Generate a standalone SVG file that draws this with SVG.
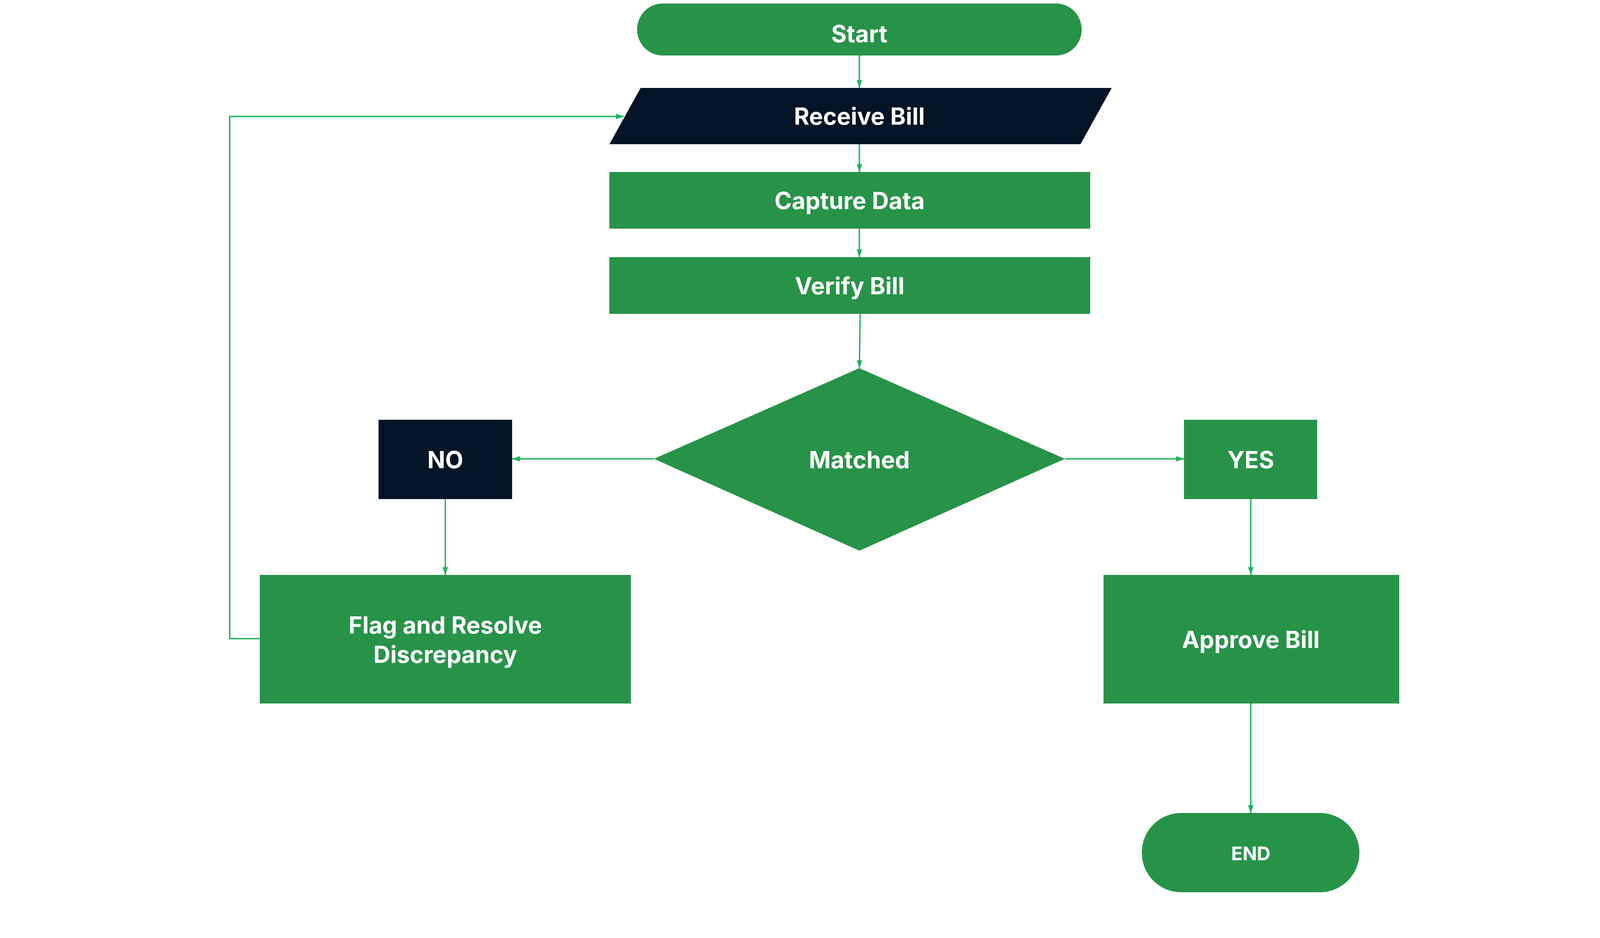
<svg xmlns="http://www.w3.org/2000/svg" width="4800" height="2400" viewBox="0 0 4800 2400">
<style>
.g{fill:#279348}.d{fill:#021426}
.t{font-family:Inter,"Open Sans","Liberation Sans",sans-serif;font-weight:700;fill:#fff;text-anchor:middle;dominant-baseline:central;font-size:60px}
.c{fill:none;stroke:#1db55a;stroke-width:3.5;marker-end:url(#a)}
</style>
<defs><marker id="a" viewBox="0 0 20 14" refX="20" refY="7" markerWidth="20" markerHeight="14" orient="auto" markerUnits="userSpaceOnUse"><path d="M0,0L20,7L0,14z" fill="#1db55a"/></marker></defs>
<rect width="4800" height="2400" fill="#fff"/>
<g id="connectors">
<path class="c" d="M2200,142V225"/>
<path class="c" d="M2200,369V440"/>
<path class="c" d="M2200,585V658"/>
<path class="c" d="M2202,803L2200,942"/>
<path class="c" d="M1674,1174H1311"/>
<path class="c" d="M2726,1174H3031"/>
<path class="c" d="M1140,1277V1471"/>
<path class="c" d="M3202,1277V1471"/>
<path class="c" d="M3202,1800V2080"/>
<path class="c" d="M665,1634H588V298H1597"/>
</g>
<g id="start"><rect class="g" x="1631" y="9" width="1138" height="133" rx="66"/><text class="t" x="2200" y="86">Start</text></g>
<g id="receive"><path class="d" d="M1640,225H2846L2766,369H1560Z"/><text class="t" x="2200" y="297">Receive Bill</text></g>
<g id="capture"><rect class="g" x="1560" y="440" width="1231" height="145"/><text class="t" x="2175" y="513">Capture Data</text></g>
<g id="verify"><rect class="g" x="1560" y="658" width="1231" height="145"/><text class="t" x="2175" y="731">Verify Bill</text></g>
<g id="matched"><path class="g" d="M1674,1174L2200,942L2726,1174L2200,1409Z"/><text class="t" x="2200" y="1176">Matched</text></g>
<g id="no"><rect class="d" x="969" y="1074" width="342" height="203"/><text class="t" x="1140" y="1176">NO</text></g>
<g id="yes"><rect class="g" x="3031" y="1074" width="341" height="203"/><text class="t" x="3202" y="1176">YES</text></g>
<g id="flag"><rect class="g" x="665" y="1471" width="950" height="329"/><text class="t" x="1140" y="1599">Flag and Resolve</text><text class="t" x="1140" y="1674">Discrepancy</text></g>
<g id="approve"><rect class="g" x="2825" y="1471" width="757" height="329"/><text class="t" x="3202" y="1636">Approve Bill</text></g>
<g id="end"><rect class="g" x="2923" y="2080" width="557" height="203" rx="101"/><text class="t" x="3202" y="2183" style="font-size:48px">END</text></g>
</svg>
